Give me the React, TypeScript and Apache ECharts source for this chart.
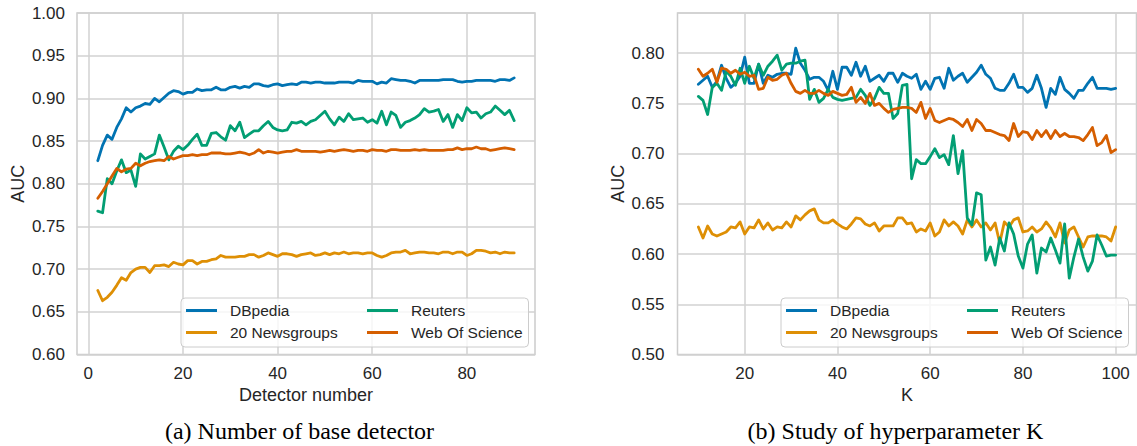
import React, { useEffect, useRef } from "react";
import * as echarts from "echarts";

// ---------- (a) Number of base detector: detector number 2..90 ----------
const detectorStart = 2;
const dbpediaA = [
  0.827, 0.845, 0.857, 0.852, 0.866, 0.876, 0.889, 0.884, 0.889, 0.891,
  0.894, 0.893, 0.900, 0.896, 0.901, 0.906, 0.909, 0.908, 0.905, 0.907,
  0.907, 0.911, 0.909, 0.910, 0.910, 0.913, 0.910, 0.910, 0.913, 0.914,
  0.912, 0.914, 0.913, 0.917, 0.917, 0.915, 0.914, 0.916, 0.917, 0.915,
  0.916, 0.917, 0.916, 0.919, 0.919, 0.918, 0.919, 0.919, 0.918, 0.918,
  0.918, 0.919, 0.919, 0.919, 0.918, 0.921, 0.920, 0.920, 0.920, 0.917,
  0.919, 0.918, 0.923, 0.922, 0.921, 0.921, 0.920, 0.918, 0.921, 0.921,
  0.921, 0.921, 0.921, 0.922, 0.922, 0.922, 0.920, 0.919, 0.920, 0.920,
  0.921, 0.921, 0.921, 0.921, 0.920, 0.922, 0.922, 0.921, 0.924,
];
const newsgroupsA = [
  0.675, 0.663, 0.667, 0.673, 0.681, 0.690, 0.687, 0.696, 0.700, 0.702,
  0.702, 0.696, 0.704, 0.704, 0.705, 0.703, 0.708, 0.706, 0.705, 0.710,
  0.710, 0.706, 0.709, 0.709, 0.711, 0.712, 0.716, 0.714, 0.714, 0.714,
  0.715, 0.715, 0.717, 0.717, 0.714, 0.716, 0.719, 0.717, 0.715, 0.718,
  0.718, 0.717, 0.715, 0.717, 0.718, 0.719, 0.716, 0.717, 0.719, 0.717,
  0.719, 0.718, 0.720, 0.718, 0.719, 0.719, 0.718, 0.719, 0.719, 0.716,
  0.714, 0.716, 0.719, 0.720, 0.720, 0.722, 0.718, 0.719, 0.720, 0.720,
  0.719, 0.719, 0.718, 0.720, 0.720, 0.718, 0.720, 0.720, 0.716, 0.718,
  0.722, 0.722, 0.721, 0.719, 0.720, 0.718, 0.720, 0.719, 0.719,
];
const reutersA = [
  0.768, 0.766, 0.806, 0.800, 0.815, 0.828, 0.813, 0.816, 0.797, 0.835,
  0.829, 0.832, 0.835, 0.857, 0.843, 0.828, 0.838, 0.844, 0.840, 0.845,
  0.852, 0.858, 0.845, 0.845, 0.859, 0.860, 0.855, 0.851, 0.868, 0.862,
  0.872, 0.854, 0.858, 0.862, 0.862, 0.868, 0.873, 0.866, 0.863, 0.862,
  0.863, 0.872, 0.871, 0.873, 0.869, 0.873, 0.875, 0.880, 0.885, 0.876,
  0.869, 0.878, 0.873, 0.882, 0.875, 0.876, 0.877, 0.872, 0.875, 0.871,
  0.885, 0.869, 0.884, 0.880, 0.866, 0.872, 0.874, 0.877, 0.881, 0.888,
  0.884, 0.885, 0.887, 0.873, 0.881, 0.866, 0.881, 0.874, 0.889, 0.883,
  0.884, 0.877, 0.882, 0.884, 0.891, 0.886, 0.881, 0.886, 0.874,
];
const wosA = [
  0.783, 0.791, 0.800, 0.809, 0.818, 0.814, 0.817, 0.818, 0.824, 0.821,
  0.824, 0.826, 0.827, 0.828, 0.827, 0.832, 0.829, 0.831, 0.833, 0.833,
  0.834, 0.833, 0.834, 0.834, 0.836, 0.836, 0.836, 0.835, 0.835, 0.836,
  0.837, 0.836, 0.834, 0.836, 0.840, 0.836, 0.838, 0.837, 0.836, 0.837,
  0.838, 0.838, 0.840, 0.838, 0.838, 0.838, 0.838, 0.837, 0.838, 0.839,
  0.838, 0.839, 0.840, 0.839, 0.838, 0.839, 0.839, 0.838, 0.840, 0.839,
  0.839, 0.838, 0.840, 0.840, 0.839, 0.839, 0.839, 0.840, 0.839, 0.840,
  0.839, 0.839, 0.839, 0.839, 0.840, 0.840, 0.842, 0.840, 0.841, 0.841,
  0.843, 0.841, 0.841, 0.839, 0.840, 0.841, 0.842, 0.841, 0.840,
];

// ---------- (b) Study of hyperparameter K: K = 10..100 ----------
const kStart = 10;
const dbpediaB = [
  0.769, 0.773, 0.777, 0.766, 0.772, 0.788, 0.775, 0.766, 0.770, 0.777,
  0.796, 0.770, 0.770, 0.789, 0.770, 0.778, 0.776, 0.779, 0.780, 0.780,
  0.779, 0.805, 0.790, 0.783, 0.774, 0.776, 0.776, 0.772, 0.763, 0.782,
  0.764, 0.786, 0.786, 0.778, 0.791, 0.777, 0.787, 0.772, 0.775, 0.778,
  0.772, 0.780, 0.780, 0.771, 0.780, 0.777, 0.775, 0.779, 0.764, 0.772,
  0.764, 0.775, 0.776, 0.765, 0.785, 0.773, 0.777, 0.780, 0.771, 0.776,
  0.781, 0.788, 0.779, 0.775, 0.765, 0.763, 0.763, 0.770, 0.779, 0.766,
  0.766, 0.761, 0.765, 0.778, 0.765, 0.746, 0.765, 0.759, 0.776, 0.764,
  0.760, 0.755, 0.763, 0.763, 0.770, 0.776, 0.765, 0.765, 0.765, 0.764,
  0.765,
];
const newsgroupsB = [
  0.627, 0.616, 0.628, 0.620, 0.618, 0.620, 0.622, 0.627, 0.626, 0.632,
  0.620, 0.627, 0.626, 0.634, 0.625, 0.631, 0.624, 0.627, 0.626, 0.632,
  0.627, 0.638, 0.634, 0.639, 0.643, 0.645, 0.634, 0.631, 0.631, 0.634,
  0.630, 0.627, 0.625, 0.630, 0.636, 0.635, 0.630, 0.628, 0.631, 0.623,
  0.628, 0.628, 0.628, 0.636, 0.636, 0.630, 0.631, 0.622, 0.625, 0.623,
  0.631, 0.618, 0.622, 0.634, 0.628, 0.632, 0.628, 0.620, 0.634, 0.627,
  0.634, 0.627, 0.631, 0.624, 0.631, 0.611, 0.632, 0.627, 0.634, 0.636,
  0.622, 0.623, 0.627, 0.622, 0.625, 0.632, 0.626, 0.617, 0.631, 0.611,
  0.624, 0.627, 0.617, 0.607, 0.617, 0.618, 0.618, 0.618, 0.617, 0.613,
  0.627,
];
const reutersB = [
  0.757, 0.753, 0.739, 0.766, 0.770, 0.763, 0.782, 0.777, 0.768, 0.785,
  0.770, 0.787, 0.775, 0.789, 0.778, 0.787, 0.792, 0.798, 0.783, 0.789,
  0.790, 0.790, 0.792, 0.793, 0.754, 0.764, 0.751, 0.755, 0.764, 0.756,
  0.754, 0.753, 0.754, 0.755, 0.756, 0.764, 0.758, 0.748, 0.755, 0.766,
  0.760, 0.760, 0.735, 0.740, 0.768, 0.769, 0.675, 0.694, 0.690, 0.690,
  0.697, 0.705, 0.696, 0.699, 0.689, 0.718, 0.680, 0.703, 0.636, 0.629,
  0.661, 0.659, 0.594, 0.607, 0.589, 0.616, 0.603, 0.631, 0.620, 0.598,
  0.586, 0.610, 0.619, 0.581, 0.606, 0.602, 0.616, 0.604, 0.591, 0.630,
  0.576, 0.597, 0.615, 0.597, 0.583, 0.593, 0.619, 0.609, 0.598, 0.599,
  0.599,
];
const wosB = [
  0.784, 0.777, 0.780, 0.784, 0.771, 0.785, 0.784, 0.780, 0.783, 0.779,
  0.781, 0.777, 0.778, 0.764, 0.765, 0.776, 0.773, 0.774, 0.778, 0.780,
  0.770, 0.762, 0.760, 0.763, 0.760, 0.760, 0.763, 0.760, 0.758, 0.762,
  0.760, 0.758, 0.759, 0.766, 0.751, 0.756, 0.750, 0.760, 0.748, 0.750,
  0.745, 0.741, 0.744, 0.745, 0.746, 0.746, 0.745, 0.741, 0.751, 0.735,
  0.745, 0.733, 0.731, 0.733, 0.735, 0.734, 0.731, 0.727, 0.734, 0.723,
  0.734, 0.730, 0.723, 0.723, 0.721, 0.719, 0.718, 0.713, 0.730, 0.717,
  0.722, 0.721, 0.714, 0.723, 0.717, 0.723, 0.715, 0.723, 0.717, 0.720,
  0.717, 0.717, 0.716, 0.713, 0.719, 0.726, 0.708, 0.711, 0.718, 0.701,
  0.704,
];

const seriesNames = ["DBpedia", "20 Newsgroups", "Reuters", "Web Of Science"];
const seriesColors = ["#0173b2", "#de8f05", "#029e73", "#d55e00"];
const xTicksA = [0, 20, 40, 60, 80];
const xTicksB = [20, 40, 60, 80, 100];
const captionA = "(a) Number of base detector";
const captionB = "(b) Study of hyperparameter K";

const SANS = "'Liberation Sans', Arial, Helvetica, sans-serif";
const SERIF = "'Liberation Serif', 'Times New Roman', serif";
const TEXT = "#262626";
const GRIDC = "#d2d2d2";

function pairs(start: number, values: number[]) {
  return values.map((v, i) => [start + i, v]);
}

export default function App() {
  const ref = useRef<HTMLDivElement>(null);

  useEffect(() => {
    if (!ref.current) return;
    const chart = echarts.init(ref.current, undefined, { renderer: "svg" });

    const grids = [
      { left: 77, top: 13, width: 458, height: 341.5 },
      { left: 677.5, top: 13, width: 459, height: 341.5 },
    ].map((g) => ({
      ...g,
      show: true,
      borderColor: "#cccccc",
      borderWidth: 1.5,
      backgroundColor: "#ffffff",
    }));

    const xAxisCommon = {
      type: "value" as const,
      nameLocation: "middle" as const,
      nameGap: 29,
      nameTextStyle: { fontFamily: SANS, fontSize: 18, color: TEXT },
      axisLine: { show: false },
      splitLine: { show: true, lineStyle: { color: GRIDC, width: 1.5 } },
    };
    const yAxisCommon = {
      type: "value" as const,
      name: "AUC",
      nameLocation: "middle" as const,
      nameGap: 50,
      nameTextStyle: { fontFamily: SANS, fontSize: 18, color: TEXT },
      interval: 0.05,
      axisLine: { show: false },
      axisTick: { show: false },
      splitLine: { show: true, lineStyle: { color: GRIDC, width: 1.5 } },
    };

    const xAxes = [
      {
        ...xAxisCommon,
        gridIndex: 0,
        name: "Detector number",
        min: -2.4,
        max: 94.4,
        axisTick: { show: false, customValues: xTicksA },
        axisLabel: {
          customValues: xTicksA,
          fontFamily: SANS,
          fontSize: 17,
          color: TEXT,
          margin: 10,
        },
      },
      {
        ...xAxisCommon,
        gridIndex: 1,
        name: "K",
        min: 5.5,
        max: 104.5,
        axisTick: { show: false, customValues: xTicksB },
        axisLabel: {
          customValues: xTicksB,
          fontFamily: SANS,
          fontSize: 17,
          color: TEXT,
          margin: 10,
        },
      },
    ];
    const yAxes = [
      {
        ...yAxisCommon,
        gridIndex: 0,
        min: 0.6,
        max: 1.0,
        axisLabel: {
          fontFamily: SANS,
          fontSize: 17,
          color: TEXT,
          margin: 12,
          formatter: (v: number) => v.toFixed(2),
        },
      },
      {
        ...yAxisCommon,
        gridIndex: 1,
        min: 0.5,
        max: 0.84,
        nameGap: 51,
        axisLabel: {
          fontFamily: SANS,
          fontSize: 17,
          color: TEXT,
          margin: 13,
          showMaxLabel: false,
          formatter: (v: number) => v.toFixed(2),
        },
      },
    ];

    const dataA = [dbpediaA, newsgroupsA, reutersA, wosA];
    const dataB = [dbpediaB, newsgroupsB, reutersB, wosB];
    const series: any[] = [];
    seriesNames.forEach((name, i) => {
      const base = {
        type: "line",
        name,
        showSymbol: false,
        symbol: "none",
        color: seriesColors[i],
        itemStyle: { color: seriesColors[i] },
        lineStyle: { width: 2.8, color: seriesColors[i], join: "round", cap: "round" },
        z: 2 + i,
      };
      series.push({ ...base, xAxisIndex: 0, yAxisIndex: 0, data: pairs(detectorStart, dataA[i]) });
      series.push({ ...base, xAxisIndex: 1, yAxisIndex: 1, data: pairs(kStart, dataB[i]) });
    });

    const legendCommon = {
      orient: "vertical" as const,
      top: 302,
      padding: 0,
      icon: "rect",
      itemWidth: 31,
      itemHeight: 3,
      itemGap: 5,
      selectedMode: false,
      z: 20,
      textStyle: { fontFamily: SANS, fontSize: 15.5, color: TEXT, padding: [0, 0, 0, 8], lineHeight: 17 },
    };
    const legends = [
      { ...legendCommon, left: 186, data: [seriesNames[0], seriesNames[1]] },
      { ...legendCommon, left: 367, data: [seriesNames[2], seriesNames[3]] },
      { ...legendCommon, left: 786, data: [seriesNames[0], seriesNames[1]] },
      { ...legendCommon, left: 967, data: [seriesNames[2], seriesNames[3]] },
    ];

    const legendBox = (x: number) => ({
      type: "rect",
      z: 15,
      shape: { x, y: 298, width: 347.5, height: 49, r: 4 },
      style: { fill: "rgba(255,255,255,0.8)", stroke: "#cccccc", lineWidth: 1 },
    });

    chart.setOption({
      animation: false,
      backgroundColor: "#ffffff",
      grid: grids,
      xAxis: xAxes,
      yAxis: yAxes,
      legend: legends,
      series,
      graphic: [
        legendBox(181),
        legendBox(781),
        {
          type: "text",
          x: 299.5,
          y: 431,
          style: {
            text: captionA,
            font: `24px ${SERIF}`,
            fill: "#000000",
            textAlign: "center",
            textVerticalAlign: "middle",
          },
        },
        {
          type: "text",
          x: 895.5,
          y: 431,
          style: {
            text: captionB,
            font: `24px ${SERIF}`,
            fill: "#000000",
            textAlign: "center",
            textVerticalAlign: "middle",
          },
        },
      ],
    });

    return () => chart.dispose();
  }, []);

  return (
    <div
      ref={ref}
      style={{ position: "absolute", left: 0, top: 0, width: 1137, height: 446, background: "#ffffff" }}
    />
  );
}
